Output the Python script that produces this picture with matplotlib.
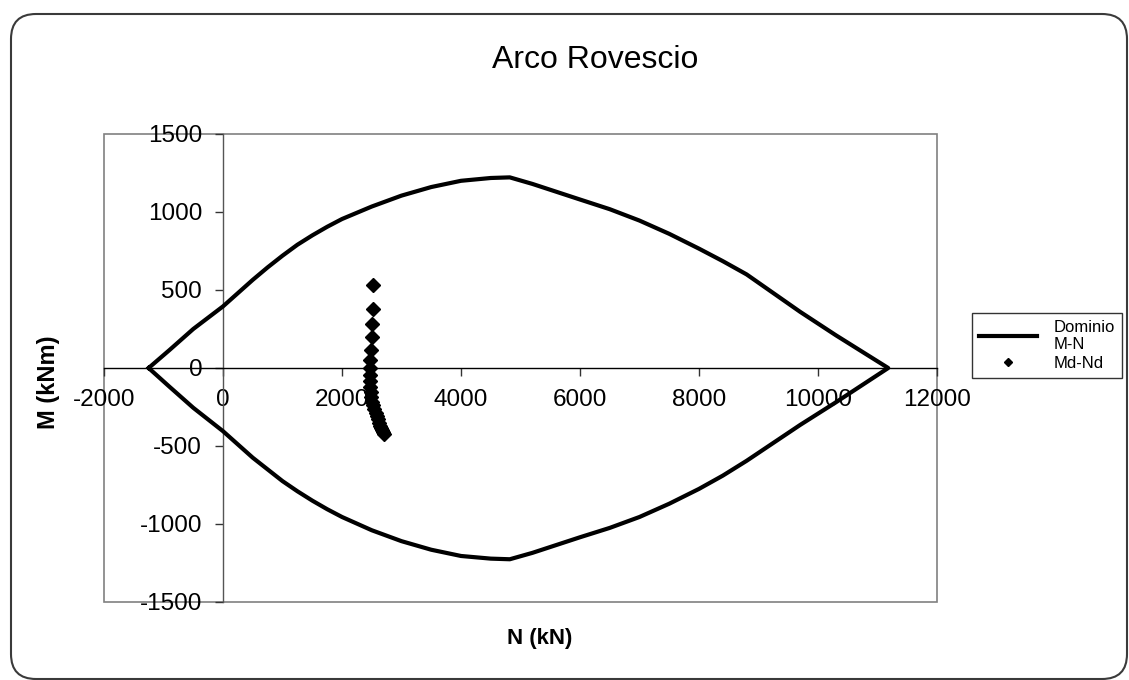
import matplotlib
matplotlib.use("Agg")
import matplotlib.pyplot as plt
from matplotlib.patches import FancyBboxPatch, Rectangle
from matplotlib.transforms import IdentityTransform

plt.rcParams['font.family'] = ['Liberation Sans', 'DejaVu Sans']
plt.rcParams['axes.unicode_minus'] = False

# ---- data ----
title = "Arco Rovescio"
x_label = "N (kN)"
y_label = "M (kNm)"
series_names = ["Dominio\nM-N", "Md-Nd"]

# M-N interaction domain (upper branch left->right, lower branch right->left)
N_upper = [-1250, -900, -500, 0, 250, 500, 750, 1000, 1250, 1500, 1750, 2000,
           2500, 3000, 3500, 4000, 4500, 4820, 5200, 6000, 6500, 7000, 7500,
           8000, 8400, 8800, 9700, 10300, 11180]
M_upper = [0, 115, 250, 395, 480, 565, 645, 720, 790, 850, 905, 955,
           1035, 1105, 1160, 1200, 1218, 1222, 1180, 1080, 1018, 945, 860,
           765, 685, 600, 360, 210, 0]
N_lower = [11180, 10300, 9700, 8800, 8400, 8000, 7500, 7000, 6500, 6000, 5200,
           4820, 4500, 4000, 3500, 3000, 2500, 2000, 1750, 1500, 1250, 1000,
           750, 500, 250, 0, -500, -900, -1250]
M_lower = [0, -220, -365, -595, -690, -775, -870, -955, -1025, -1085, -1185,
           -1226, -1222, -1205, -1165, -1110, -1040, -955, -905, -850, -790,
           -725, -650, -575, -490, -405, -255, -120, 0]

# design actions
Nd = [2520, 2515, 2505, 2500, 2490, 2478, 2470, 2468, 2470, 2475, 2485, 2495,
      2510, 2525, 2545, 2565, 2585, 2605, 2625, 2645, 2660, 2675, 2690, 2700]
Md = [531, 377, 285, 199, 113, 49, 0, -45, -85, -120, -155, -185,
      -215, -240, -265, -290, -310, -330, -350, -370, -385, -400, -412, -423]

x_ticks = list(range(-2000, 12001, 2000))
y_ticks = list(range(-1500, 1501, 500))

# ---- figure ----
W, H = 1129, 680
fig = plt.figure(figsize=(W / 100, H / 100), dpi=100)
fig.patch.set_facecolor('white')

# rounded chart border
border = FancyBboxPatch((11, 1), 1116, 665, boxstyle="round,pad=0,rounding_size=25",
                        transform=IdentityTransform(), facecolor='none',
                        edgecolor='#3a3a3a', linewidth=1.5)
fig.add_artist(border)

ax = fig.add_axes([104 / W, 1 - 602 / H, 833 / W, 468 / H])
ax.set_facecolor('white')

N_dom = N_upper + N_lower
M_dom = M_upper + M_lower
ax.plot(N_dom, M_dom, color='black', lw=3, solid_joinstyle='round',
        label=series_names[0], zorder=3)
ax.plot(Nd, Md, ls='none', marker='D', ms=7.5, color='black',
        label=series_names[1], zorder=4)

ax.set_xlim(x_ticks[0], x_ticks[-1])
ax.set_ylim(y_ticks[0], y_ticks[-1])
ax.set_xticks(x_ticks)
ax.set_yticks(y_ticks)
ax.set_xticklabels([str(t) for t in x_ticks])
ax.set_yticklabels([str(t) for t in y_ticks])

ax.spines['left'].set_position(('data', 0))
ax.spines['bottom'].set_position(('data', 0))
ax.spines['left'].set_color('#555555')
ax.spines['bottom'].set_color('black')
for s in ['left', 'bottom']:
    ax.spines[s].set_linewidth(1.0)
ax.spines['top'].set_visible(False)
ax.spines['right'].set_visible(False)
ax.add_patch(Rectangle((0, 0), 1, 1, transform=ax.transAxes, fill=False,
                       edgecolor='#808080', lw=1.2, clip_on=False, zorder=0))

ax.tick_params(axis='both', direction='out', length=6, width=1, color='#333333',
               labelsize=17.5, pad=9)

ax.set_xlabel(x_label, fontsize=16, fontweight='bold')
ax.set_ylabel(y_label, fontsize=17, fontweight='bold')
ax.xaxis.set_label_coords(0.523, -0.055)
ax.yaxis.set_label_coords(-0.053, 0.47)

fig.text(595 / W, 1 - 60 / H, title, ha='center', va='center', fontsize=23)

leg = ax.legend(loc='upper left', bbox_to_anchor=(972 / W, 1 - 313 / H),
                bbox_transform=fig.transFigure, fontsize=12, frameon=True,
                fancybox=False, edgecolor='black', markerscale=0.6,
                handlelength=3.5, borderaxespad=0, borderpad=0.4,
                labelspacing=0.25, handletextpad=1.0)
leg.get_frame().set_linewidth(1.0)

fig.savefig("out.png", dpi=100, facecolor='white')
